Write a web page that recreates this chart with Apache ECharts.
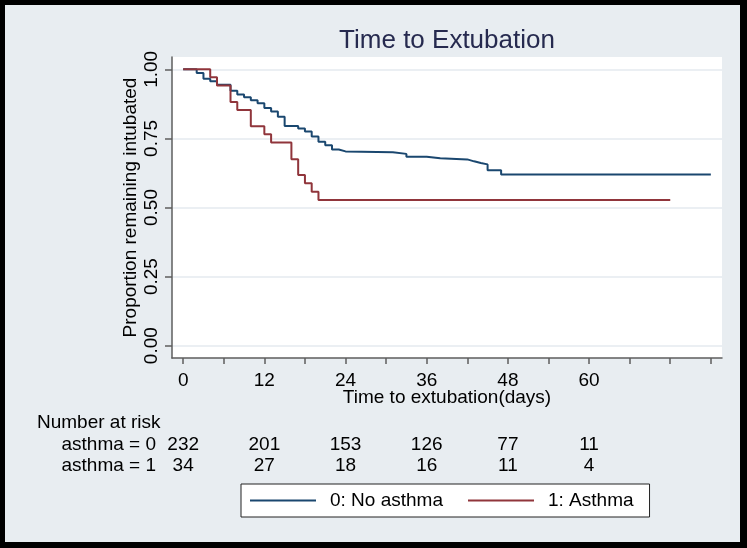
<!DOCTYPE html>
<html>
<head>
<meta charset="utf-8">
<script src="https://cdn.jsdelivr.net/npm/echarts@6/dist/echarts.min.js"></script>
<style>
html,body{margin:0;padding:0;background:#000;}
#chart{width:747px;height:548px;}
</style>
</head>
<body>
<div id="chart"></div>
<script>
// ---- Data ----
const noAsthmaTime = [0, 2, 3, 4, 5, 7, 8, 9, 10, 11, 12, 13, 14, 15, 17, 18, 19, 20, 21, 22, 23, 24, 31, 33, 36, 38, 42, 43, 44, 45, 47, 78];
const noAsthmaSurv = [1.000, 0.987, 0.966, 0.957, 0.944, 0.922, 0.909, 0.899, 0.888, 0.877, 0.860, 0.847, 0.828, 0.795, 0.786, 0.775, 0.757, 0.738, 0.725, 0.710, 0.703, 0.700, 0.694, 0.684, 0.678, 0.674, 0.667, 0.661, 0.656, 0.635, 0.619, 0.619];
const asthmaTime = [0, 4, 5, 7, 8, 10, 12, 13, 16, 17, 18, 19, 20, 72];
const asthmaSurv = [1.000, 0.971, 0.941, 0.882, 0.853, 0.794, 0.765, 0.735, 0.675, 0.618, 0.588, 0.557, 0.527, 0.527];

const xTickValues = [0, 6, 12, 18, 24, 30, 36, 42, 48, 54, 60, 66, 72, 78];
const xLabelValues = [0, 12, 24, 36, 48, 60];
const yTickValues = [0, 0.25, 0.5, 0.75, 1];

const riskTimes = [0, 12, 24, 36, 48, 60];
const riskNoAsthma = [232, 201, 153, 126, 77, 11];
const riskAsthma = [34, 27, 18, 16, 11, 4];

const seriesNames = ['0: No asthma', '1: Asthma'];
const rowNames = ['asthma = 0', 'asthma = 1'];

// ---- Styling ----
const FONT = '"Liberation Sans", Arial, sans-serif';
const BG = '#e8edf1';
const AXIS = '#5e5e5e';
const X_MIN = -1.65, X_MAX = 79.65;
const Y_MIN = -0.0445, Y_MAX = 1.0445;

function riskAxis(gridIndex, counts, name) {
  return {
    type: 'value', gridIndex: gridIndex, min: X_MIN, max: X_MAX,
    axisLine: {show: false}, axisTick: {show: false, customValues: riskTimes},
    splitLine: {show: false},
    axisLabel: {
      customValues: riskTimes, margin: 0, color: '#000', fontSize: 19, fontFamily: FONT,
      formatter: function (v) { const i = riskTimes.indexOf(Math.round(v)); return i >= 0 ? String(counts[i]) : ''; }
    },
    name: name, nameLocation: 'start', nameGap: 16, nameMoveOverlap: false,
    nameTextStyle: {color: '#000', fontSize: 19, fontFamily: FONT, verticalAlign: 'top', align: 'right'}
  };
}

const chart = echarts.init(document.getElementById('chart'), null, {renderer: 'canvas'});
chart.setOption({
  animation: false,
  backgroundColor: '#000',
  graphic: [{
    type: 'rect', z: -10, silent: true,
    shape: {x: 5, y: 5, width: 735, height: 537},
    style: {fill: BG}
  }],
  title: [
    {text: 'Time to Extubation', left: 447, top: 28, textAlign: 'center', padding: 0,
     textStyle: {fontSize: 26, fontWeight: 'normal', color: '#262a4f', fontFamily: FONT}},
    {text: 'Number at risk', left: 37, top: 413, padding: 0,
     textStyle: {fontSize: 19, fontWeight: 'normal', color: '#000', fontFamily: FONT}}
  ],
  legend: {
    data: seriesNames, left: 241, top: 484, orient: 'horizontal',
    backgroundColor: '#fff', borderColor: '#222', borderWidth: 1, borderRadius: 0,
    padding: [7, 16, 7, 9], itemGap: 25, itemWidth: 66, itemHeight: 2, icon: 'rect',
    textStyle: {fontSize: 19, color: '#000', fontFamily: FONT, padding: [0, 0, 0, 9]}
  },
  grid: [
    {left: 172, top: 57, width: 550, height: 301, show: true, backgroundColor: '#fff', borderWidth: 0},
    {left: 172, top: 434, width: 550, height: 1},
    {left: 172, top: 455, width: 550, height: 1}
  ],
  xAxis: [
    {
      type: 'value', gridIndex: 0, min: X_MIN, max: X_MAX,
      axisLine: {show: true, onZero: false, lineStyle: {color: AXIS, width: 1.5}},
      axisTick: {show: true, customValues: xTickValues, length: 6, lineStyle: {color: AXIS, width: 1.5}},
      axisLabel: {customValues: xLabelValues, margin: 13, color: '#000', fontSize: 19, fontFamily: FONT},
      splitLine: {show: false},
      name: 'Time to extubation(days)', nameLocation: 'middle', nameGap: 30, nameMoveOverlap: false,
      nameTextStyle: {color: '#000', fontSize: 19, fontFamily: FONT}
    },
    riskAxis(1, riskNoAsthma, rowNames[0]),
    riskAxis(2, riskAsthma, rowNames[1])
  ],
  yAxis: [
    {
      type: 'value', gridIndex: 0, min: Y_MIN, max: Y_MAX,
      axisLine: {show: true, onZero: false, lineStyle: {color: AXIS, width: 1.5}},
      axisTick: {show: true, customValues: yTickValues, length: 7, lineStyle: {color: AXIS, width: 1.5}},
      axisLabel: {customValues: yTickValues, rotate: 90, margin: 11, color: '#000', fontSize: 19, fontFamily: FONT,
                  formatter: function (v) { return Number(v).toFixed(2); }},
      splitLine: {show: true, lineStyle: {color: '#e4eaef', width: 1.5}},
      name: 'Proportion remaining intubated', nameLocation: 'middle', nameGap: 32, nameMoveOverlap: false,
      nameTextStyle: {color: '#000', fontSize: 19, fontFamily: FONT}
    },
    {type: 'value', gridIndex: 1, show: false},
    {type: 'value', gridIndex: 2, show: false}
  ],
  series: [
    {
      name: seriesNames[0], type: 'line', step: 'end', xAxisIndex: 0, yAxisIndex: 0,
      symbol: 'none', color: '#1a476f', lineStyle: {width: 2, color: '#1a476f'},
      data: noAsthmaTime.map(function (t, i) { return [t, noAsthmaSurv[i]]; })
    },
    {
      name: seriesNames[1], type: 'line', step: 'end', xAxisIndex: 0, yAxisIndex: 0,
      symbol: 'none', color: '#90353b', lineStyle: {width: 2, color: '#90353b'},
      data: asthmaTime.map(function (t, i) { return [t, asthmaSurv[i]]; })
    }
  ]
});
</script>
</body>
</html>
